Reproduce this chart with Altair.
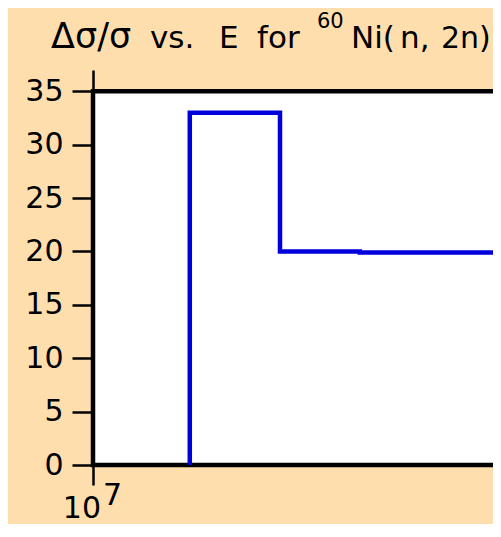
import altair as alt
import pandas as pd

# ---- data ----
GROUP_BOUNDS = [1.15e7, 1.31e7, 1.47e7, 2.0e7]   # energy group boundaries (eV)
REL_UNC = [33.0, 20.0, 19.9]                     # Δσ/σ (%) in each group
Y_TICKS = [0, 5, 10, 15, 20, 25, 30, 35]
X_TICKS = [1e7]
X_DOMAIN = [1e7, 2e7]
Y_DOMAIN = [0, 37]
FRAME_TOP = 35

# build step points: start at zero, then the value of each group
pts_e = [GROUP_BOUNDS[0]] + GROUP_BOUNDS[:-1] + [GROUP_BOUNDS[-1]]
pts_v = [0.0] + REL_UNC + [REL_UNC[-1]]
line_df = pd.DataFrame({"E": pts_e, "v": pts_v, "i": list(range(len(pts_e)))})

FONT = "DejaVu Sans"
W, H = 400, 395

xs = alt.Scale(type="log", domain=X_DOMAIN, range=[0, 480])
ys = alt.Scale(domain=Y_DOMAIN, nice=False, zero=False)

frame = alt.Chart(alt.Data(values=[{}])).mark_rect(
    fill="white", stroke="black", strokeWidth=4.5
).encode(
    x=alt.X(datum=X_DOMAIN[0], type="quantitative", scale=xs,
            axis=alt.Axis(values=X_TICKS, labels=False, title=None, domain=False,
                          tickSize=20, tickWidth=2.5, tickColor="black", grid=False)),
    x2=alt.datum(X_DOMAIN[1]),
    y=alt.Y(datum=0, type="quantitative", scale=ys,
            axis=alt.Axis(values=Y_TICKS, title=None, domainColor="black", domainWidth=2.5,
                          tickSize=21, tickWidth=2.5, tickColor="black", labelColor="black",
                          labelFont=FONT, labelFontSize=30, labelPadding=9, grid=False)),
    y2=alt.datum(FRAME_TOP),
)

line = alt.Chart(line_df).mark_line(
    interpolate="step-after", color="#0000DC", strokeWidth=4.5
).encode(
    x=alt.X("E:Q", scale=xs),
    y=alt.Y("v:Q", scale=ys),
    order="i:O",
)

tick_label = alt.Chart(alt.Data(values=[{}])).mark_text(
    text="10", font=FONT, fontSize=30, align="right", baseline="alphabetic", dx=8, dy=53,
    color="black"
).encode(x=alt.X(datum=X_TICKS[0], type="quantitative", scale=xs),
         y=alt.Y(datum=0, type="quantitative", scale=ys))

exp7 = alt.Chart(alt.Data(values=[{}])).mark_text(
    text="7", font=FONT, fontSize=30, align="left", baseline="alphabetic", dx=10, dy=40,
    color="black"
).encode(x=alt.X(datum=X_TICKS[0], type="quantitative", scale=xs),
         y=alt.Y(datum=0, type="quantitative", scale=ys))

# title pieces (x, baseline y relative to the plot origin)
title_parts = [
    ("Δσ/σ", -42, -22, 35),
    ("vs.", 57, -22, 31),
    ("E", 126, -22, 31),
    ("for", 164, -22, 31),
    ("60", 224, -42, 21),
    ("Ni(", 258, -22, 31),
    ("n,", 307, -22, 31),
    ("2n)", 348, -22, 30),
]
title_layers = [
    alt.Chart(alt.Data(values=[{}])).mark_text(
        text=t, font=FONT, fontSize=s, align="left", baseline="alphabetic", color="black"
    ).encode(x=alt.value(px), y=alt.value(py))
    for t, px, py, s in title_parts
]

chart = alt.layer(frame, line, tick_label, exp7, *title_layers).properties(
    width=W, height=H,
    autosize=alt.AutoSizeParams(type="none"),
    padding={"left": 85, "top": 62, "right": 0, "bottom": 59},
    background="#FFDEAD",
).configure_view(strokeWidth=0)

chart.save("out.html", embed_options={"renderer": "svg", "actions": False})
